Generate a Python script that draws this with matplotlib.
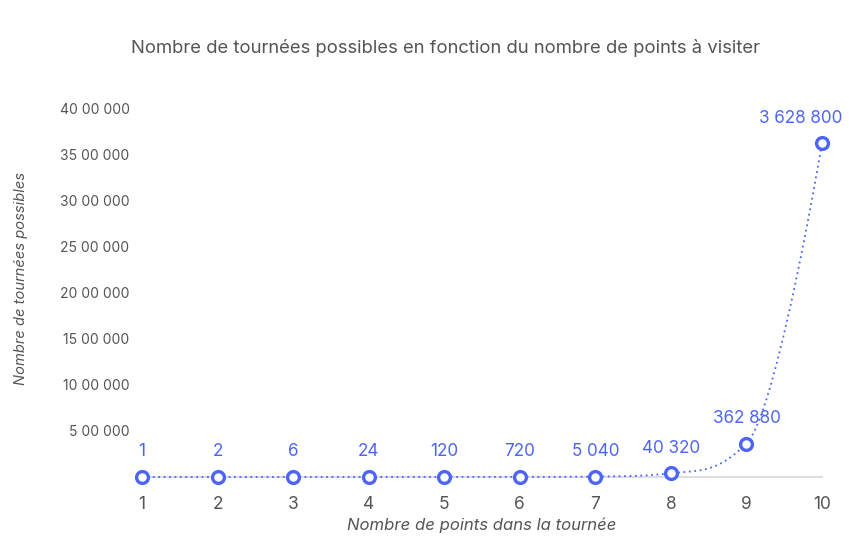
import numpy as np
import matplotlib
matplotlib.use('Agg')
from matplotlib import pyplot as plt

# data
points = [1, 2, 3, 4, 5, 6, 7, 8, 9, 10]
tours = [1, 2, 6, 24, 120, 720, 5040, 40320, 362880, 3628800]
tour_labels = ['1', '2', '6', '24', '120', '720', '5 040', '40 320', '362 880', '3 628 800']
y_ticks = [500000, 1000000, 1500000, 2000000, 2500000, 3000000, 3500000, 4000000]
y_tick_labels = ['5 00 000', '10 00 000', '15 00 000', '20 00 000',
                 '25 00 000', '30 00 000', '35 00 000', '40 00 000']

BLUE = '#4d65f7'
GREY = '#555555'
plt.rcParams['font.family'] = ['Inter', 'DejaVu Sans']


def spline_path(x, y, n=40):
    # smoothing like a highcharts "spline" series, only to draw between the points
    x = [float(v) for v in x]
    y = [float(v) for v in y]
    sm = 1.5
    right = [None] * len(x)
    left = [None] * len(x)
    for i in range(1, len(x) - 1):
        lx = (sm * x[i] + x[i - 1]) / (sm + 1)
        ly = (sm * y[i] + y[i - 1]) / (sm + 1)
        rx = (sm * x[i] + x[i + 1]) / (sm + 1)
        ry = (sm * y[i] + y[i + 1]) / (sm + 1)
        corr = (ry - ly) * (rx - x[i]) / (rx - lx) + y[i] - ry
        ly += corr
        ry += corr
        if ly > y[i - 1] and ly > y[i]:
            ly = max(y[i - 1], y[i]); ry = 2 * y[i] - ly
        elif ly < y[i - 1] and ly < y[i]:
            ly = min(y[i - 1], y[i]); ry = 2 * y[i] - ly
        if ry > y[i + 1] and ry > y[i]:
            ry = max(y[i + 1], y[i]); ly = 2 * y[i] - ry
        elif ry < y[i + 1] and ry < y[i]:
            ry = min(y[i + 1], y[i]); ly = 2 * y[i] - ry
        left[i] = (lx, ly)
        right[i] = (rx, ry)
    u = np.linspace(0, 1, n)
    xs, ys = [], []
    for i in range(len(x) - 1):
        p0 = (x[i], y[i])
        p1 = right[i] if right[i] else p0
        p3 = (x[i + 1], y[i + 1])
        p2 = left[i + 1] if left[i + 1] else p3
        for k in range(2):
            c = (1 - u) ** 3 * p0[k] + 3 * (1 - u) ** 2 * u * p1[k] + 3 * (1 - u) * u ** 2 * p2[k] + u ** 3 * p3[k]
            (xs if k == 0 else ys).append(c)
    return np.concatenate(xs), np.concatenate(ys)


fig = plt.figure(figsize=(8.49, 5.55), dpi=100)
ax = fig.add_axes([142 / 849, 1 - 477 / 555, 680 / 849, 368 / 555])

cx, cy = spline_path(points, tours)
ax.plot(cx, cy, color=BLUE, lw=1.3, linestyle=(0, (1, 2)), clip_on=False, zorder=3)
ax.plot(points, tours, 'o', ms=8.5, mfc='white', mec=BLUE, mew=2.4, clip_on=False, zorder=4)

for xv, yv, lab in zip(points, tours, tour_labels):
    if xv == points[-1]:
        ax.annotate(lab, (xv, yv), xytext=(15, 18), textcoords='offset points',
                    ha='right', va='center', color=BLUE, fontsize=12.3)
    else:
        ax.annotate(lab, (xv, yv), xytext=(0, 18), textcoords='offset points',
                    ha='center', va='center', color=BLUE, fontsize=12.3)

ax.set_xlim(1, 10)
ax.set_ylim(0, 4000000)
ax.set_xticks(points)
ax.set_xticklabels([str(p) for p in points])
ax.set_yticks(y_ticks)
ax.set_yticklabels(y_tick_labels)
ax.tick_params(axis='x', length=0, pad=14, labelsize=12.5, labelcolor=GREY)
ax.tick_params(axis='y', length=0, pad=9, labelsize=10, labelcolor=GREY)

for side in ['top', 'right', 'left']:
    ax.spines[side].set_visible(False)
ax.spines['bottom'].set_color('#dddde2')
ax.spines['bottom'].set_linewidth(1.5)

ax.set_xlabel('Nombre de points dans la tournée', fontsize=12, style='italic', color=GREY, labelpad=3)
ax.set_ylabel('Nombre de tournées possibles', fontsize=10.6, style='italic', color=GREY)
ax.yaxis.set_label_coords(-114 / 680, 199 / 368)

fig.text(446 / 849, 1 - 48 / 555, 'Nombre de tournées possibles en fonction du nombre de points à visiter',
         ha='center', va='center', fontsize=13.3, color=GREY)

plt.savefig('out.png', dpi=100)
